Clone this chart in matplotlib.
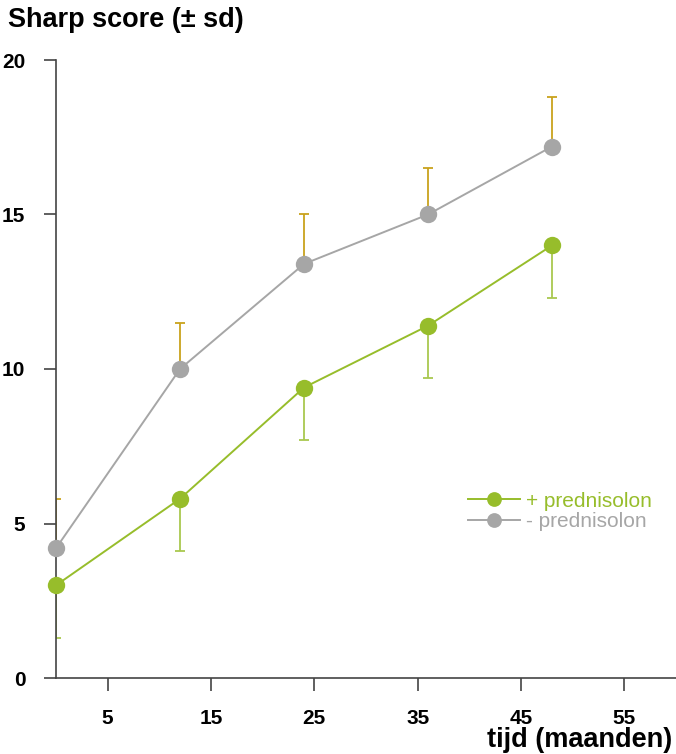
import matplotlib
matplotlib.use("Agg")
import matplotlib.pyplot as plt

# Sharp score over time, with and without prednisolone
months = [0, 12, 24, 36, 48]
score_with = [3.0, 5.8, 9.4, 11.4, 14.0]
sd_with = [1.7, 1.7, 1.7, 1.7, 1.7]
score_without = [4.2, 10.0, 13.4, 15.0, 17.2]
sd_without = [1.6, 1.5, 1.6, 1.5, 1.6]
x_ticks = [5, 15, 25, 35, 45, 55]
y_ticks = [0, 5, 10, 15, 20]

green = "#97bd2b"
green_err = "#a9c84f"
grey = "#a6a6a6"
gold = "#c9a21c"
axis_col = "#444444"

plt.rcParams["font.family"] = ["Liberation Sans", "DejaVu Sans"]

fig = plt.figure(figsize=(6.76, 7.54), dpi=100)
ax = fig.add_axes([56 / 676, 1 - 678 / 754, (676 - 56) / 676, (678 - 60) / 754])

# error bars: grey series upward, green series downward
ax.errorbar(months, score_without, yerr=[[0] * 5, sd_without], fmt="none",
            ecolor=gold, elinewidth=1.3, capsize=3.5, capthick=1.3, zorder=2)
ax.errorbar(months, score_with, yerr=[sd_with, [0] * 5], fmt="none",
            ecolor=green_err, elinewidth=1.3, capsize=3.5, capthick=1.3, zorder=2)

l1, = ax.plot(months, score_with, color=green, lw=1.4, marker="o", ms=12.5,
              markeredgewidth=0, zorder=3, label="+ prednisolon", clip_on=False)
l2, = ax.plot(months, score_without, color=grey, lw=1.4, marker="o", ms=12.5,
              markeredgewidth=0, zorder=3, label="- prednisolon", clip_on=False)

ax.set_xlim(0, 60)
ax.set_ylim(0, 20)
ax.set_xticks(x_ticks)
ax.set_yticks(y_ticks)
ax.tick_params(axis="both", colors=axis_col, length=9, width=1.2,
               labelcolor="black", labelsize=15)
ax.tick_params(axis="x", pad=13)
ax.tick_params(axis="y", pad=13)
for lab in ax.get_xticklabels() + ax.get_yticklabels():
    lab.set_fontweight("bold")

for side in ("top", "right"):
    ax.spines[side].set_visible(False)
for side in ("left", "bottom"):
    ax.spines[side].set_color(axis_col)
    ax.spines[side].set_linewidth(1.2)

leg = ax.legend(handles=[l1, l2], loc="upper left", bbox_to_anchor=(0.651, 0.315),
                frameon=False, fontsize=15, handlelength=2.5, handletextpad=0.3,
                labelspacing=0.08, borderaxespad=0, markerscale=0.85)
for txt, col in zip(leg.get_texts(), [green, grey]):
    txt.set_color(col)

fig.text(8 / 676, 1 - 20 / 754, "Sharp score (\u00b1 sd)", fontsize=19.5,
         fontweight="bold", ha="left", va="center")
fig.text(672 / 676, 1 - 740 / 754, "tijd (maanden)", fontsize=19.5,
         fontweight="bold", ha="right", va="center")

fig.savefig("out.png", dpi=100)
